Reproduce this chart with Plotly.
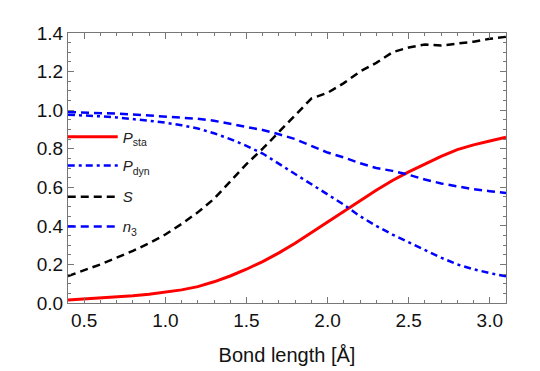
import plotly.graph_objects as go

bond_length = [0.4, 0.5, 0.6, 0.7, 0.8, 0.9, 1.0, 1.1, 1.2, 1.3, 1.4, 1.5, 1.6, 1.7,
               1.8, 1.9, 2.0, 2.1, 2.2, 2.3, 2.4, 2.5, 2.6, 2.7, 2.8, 2.9, 3.0, 3.1]
p_sta = [0.015, 0.02, 0.025, 0.03, 0.037, 0.045, 0.055, 0.068, 0.085, 0.11, 0.14, 0.175, 0.215, 0.26,
         0.31, 0.365, 0.42, 0.475, 0.53, 0.585, 0.635, 0.68, 0.72, 0.76, 0.795, 0.82, 0.84, 0.86]
p_dyn = [0.976, 0.973, 0.968, 0.962, 0.955, 0.945, 0.935, 0.922, 0.905, 0.88, 0.85, 0.815, 0.775, 0.722,
         0.67, 0.615, 0.565, 0.51, 0.45, 0.40, 0.355, 0.315, 0.275, 0.235, 0.20, 0.175, 0.155, 0.138]
s_vals = [0.14, 0.17, 0.20, 0.235, 0.27, 0.31, 0.355, 0.41, 0.47, 0.54, 0.63, 0.72, 0.80, 0.885,
          0.975, 1.06, 1.09, 1.14, 1.20, 1.245, 1.30, 1.325, 1.34, 1.335, 1.345, 1.355, 1.37, 1.38]
n3_vals = [0.99, 0.988, 0.985, 0.982, 0.978, 0.973, 0.967, 0.962, 0.955, 0.945, 0.93, 0.915, 0.897, 0.875,
           0.85, 0.815, 0.78, 0.755, 0.725, 0.70, 0.685, 0.665, 0.64, 0.62, 0.605, 0.59, 0.58, 0.57]

names = ["<i>P</i><sub>sta</sub>", "<i>P</i><sub>dyn</sub>", "<i>S</i>", "<i>n</i><sub>3</sub>"]
series = [p_sta, p_dyn, s_vals, n3_vals]
colors = ["#ff0000", "#0000ff", "#000000", "#0000ff"]
dashes = ["solid", "7px,4px,3px,4px", "8px,5px", "8px,5px"]
widths = [3, 2.5, 2.5, 2.5]
legends = ["legend", "legend2", "legend3", "legend4"]
legend_y = [0.615, 0.508, 0.393, 0.282]

fig = go.Figure()
for nm, ys, c, d, w, lg in zip(names, series, colors, dashes, widths, legends):
    fig.add_trace(go.Scatter(x=bond_length, y=ys, mode="lines", name=nm,
                             line=dict(color=c, dash=d, width=w), legend=lg))

font_family = "Liberation Sans, Arial, sans-serif"
layout_legends = {}
for lg, ly in zip(legends, legend_y):
    layout_legends[lg] = dict(x=-0.012, y=ly, xref="paper", yref="paper",
                              xanchor="left", yanchor="middle",
                              bgcolor="rgba(0,0,0,0)", borderwidth=0,
                              font=dict(family=font_family, size=15, color="#222"),
                              itemwidth=50)

axis_common = dict(showline=True, linecolor="#777", linewidth=1, mirror="ticks",
                   ticks="inside", ticklen=6, tickwidth=1, tickcolor="#777",
                   showgrid=False, zeroline=False, automargin=False,
                   tickfont=dict(family=font_family, size=19, color="#111"))

fig.update_layout(
    width=540, height=371,
    margin=dict(l=68, r=34, t=33, b=68),
    paper_bgcolor="white", plot_bgcolor="white",
    showlegend=True,
    xaxis=dict(range=[0.4, 3.1], tick0=0.5, dtick=0.5, tickformat=".1f",
               minor=dict(dtick=0.1, tick0=0.4, ticks="inside", ticklen=3, tickcolor="#777"),
               title=dict(text="Bond length [Å]", font=dict(family=font_family, size=20, color="#111"),
                          standoff=18),
               **axis_common),
    yaxis=dict(range=[0, 1.4], tick0=0, dtick=0.2, tickformat=".1f",
               minor=dict(dtick=0.05, tick0=0, ticks="inside", ticklen=3, tickcolor="#777"),
               **axis_common),
    **layout_legends,
)

fig.write_html("out.html")
